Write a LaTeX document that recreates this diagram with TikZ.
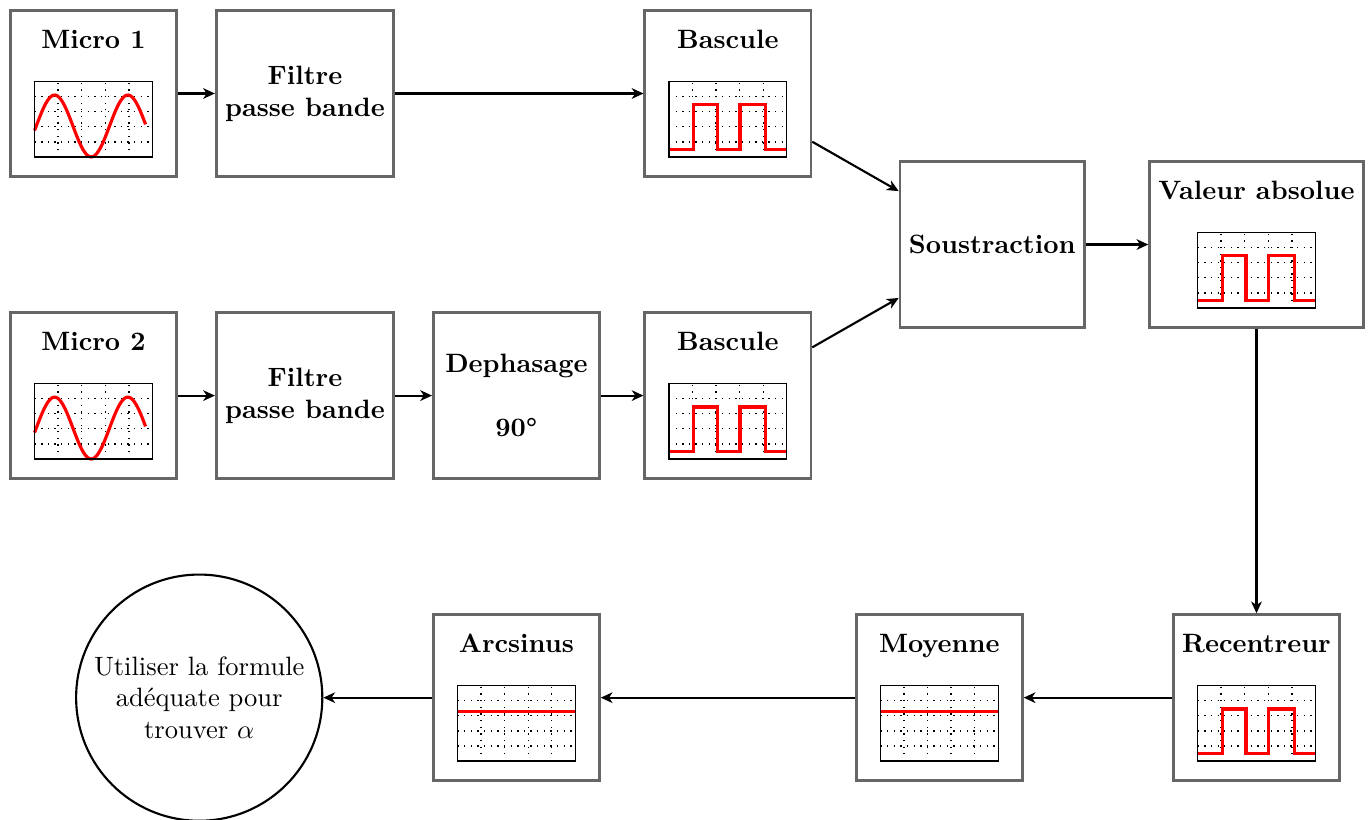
\documentclass[tikz,border=0pt]{standalone}
\usetikzlibrary{arrows.meta}
\begin{document}
\begin{tikzpicture}[
  bloc/.style={draw=black!60, line width=1pt, minimum size=2.2cm, align=center, font=\bfseries},
  blocg/.style={bloc, text height=0.25cm, text depth=1.45cm},
  cercle/.style={circle, draw, thick, minimum size=3.26cm, align=center, inner sep=1pt},
  fleche/.style={-{Stealth[length=4.4pt, width=4pt, inset=1.3pt]}, thick},
  grille/.style={dotted, line width=0.5pt},
  signal/.style={red, line width=1.2pt},
  ecran/.pic={
    \foreach \gx in {-0.468,-0.156,0.156,0.468} \draw[grille] (\gx,-0.5) -- (\gx,0.5);
    \foreach \gy in {-0.3,-0.1,0.1,0.3} \draw[grille] (-0.78,\gy) -- (0.78,\gy);
  },
  sinus/.pic={
    \pic {ecran};
    \draw[signal, domain=-0.78:0.69, samples=60, smooth] plot (\x,{-0.09+0.41*sin(90+(\x+0.515)*371.1)});
    \draw[line width=0.5pt] (-0.78,-0.5) rectangle (0.78,0.5);
  },
  carre/.pic={
    \pic {ecran};
    \draw[signal] (-0.78,-0.4) -| (-0.45,0.19) -| (-0.14,-0.4) -| (0.16,0.19) -| (0.50,-0.4) -- (0.78,-0.4);
    \draw[line width=0.5pt] (-0.78,-0.5) rectangle (0.78,0.5);
  },
  plat/.pic={
    \pic {ecran};
    \draw[signal] (-0.78,0.16) -- (0.78,0.16);
    \draw[line width=0.5pt] (-0.78,-0.5) rectangle (0.78,0.5);
  }
]
\useasboundingbox (-1.238,1.238) rectangle (16.89,-9.62);

% --- voie 1 ---
\node[blocg] (micro1) at (0,0) {Micro 1};
\pic at ([yshift=-0.34cm]micro1.center) {sinus};
\node[bloc] (filtre1) at (2.8,0) {Filtre\\passe bande};
\node[blocg] (bascule1) at (8.4,0) {Bascule};
\pic at ([yshift=-0.34cm]bascule1.center) {carre};

% --- voie 2 ---
\node[blocg] (micro2) at (0,-4) {Micro 2};
\pic at ([yshift=-0.34cm]micro2.center) {sinus};
\node[bloc] (filtre2) at (2.8,-4) {Filtre\\passe bande};
\node[bloc] (dephasage) at (5.6,-4) {Dephasage\\[12pt]90°};
\node[blocg] (bascule2) at (8.4,-4) {Bascule};
\pic at ([yshift=-0.34cm]bascule2.center) {carre};

% --- traitement ---
\node[bloc] (soustraction) at (11.9,-2) {Soustraction};
\node[blocg] (valeur) at (15.4,-2) {Valeur absolue};
\pic at ([yshift=-0.34cm]valeur.center) {carre};
\node[blocg] (recentreur) at (15.4,-8) {Recentreur};
\pic at ([yshift=-0.34cm]recentreur.center) {carre};
\node[blocg] (moyenne) at (11.2,-8) {Moyenne};
\pic at ([yshift=-0.34cm]moyenne.center) {plat};
\node[blocg] (arcsinus) at (5.6,-8) {Arcsinus};
\pic at ([yshift=-0.34cm]arcsinus.center) {plat};
\node[cercle] (formule) at (1.4,-8) {Utiliser la formule\\adéquate pour\\trouver $\alpha$};

% --- liaisons ---
\draw[fleche] (micro1) -- (filtre1);
\draw[fleche] (filtre1) -- (bascule1);
\draw[fleche] (micro2) -- (filtre2);
\draw[fleche] (filtre2) -- (dephasage);
\draw[fleche] (dephasage) -- (bascule2);
\draw[fleche] (bascule1) -- (soustraction);
\draw[fleche] (bascule2) -- (soustraction);
\draw[fleche] (soustraction) -- (valeur);
\draw[fleche] (valeur) -- (recentreur);
\draw[fleche] (recentreur) -- (moyenne);
\draw[fleche] (moyenne) -- (arcsinus);
\draw[fleche] (arcsinus) -- (formule);
\end{tikzpicture}
\end{document}
